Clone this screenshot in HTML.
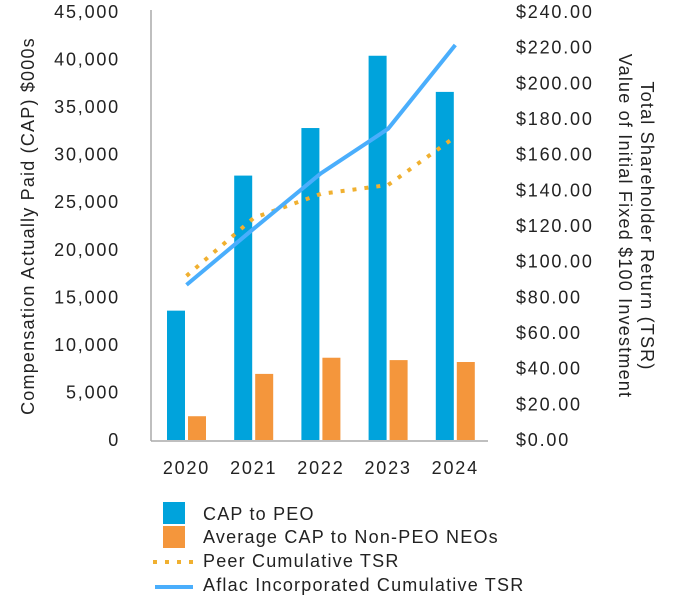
<!DOCTYPE html>
<html><head><meta charset="utf-8">
<style>
body{margin:0;background:#fff;}
svg{display:block;font-family:"Liberation Sans",sans-serif;}
text{letter-spacing:1.2px;}
.num{letter-spacing:1.8px;}
</style></head>
<body>
<svg id="chart" width="680" height="600" viewBox="0 0 680 600">
<g id="axes"></g>
<g id="bars"></g>
<g id="lines"></g>
<text transform="translate(34,226) rotate(-90)" text-anchor="middle" font-size="18" fill="#222">Compensation Actually Paid (CAP) $000s</text>
<text transform="translate(641,226) rotate(90)" text-anchor="middle" font-size="18" fill="#222">Total Shareholder Return (TSR)</text>
<text transform="translate(619,226) rotate(90)" text-anchor="middle" font-size="18" fill="#222">Value of Initial Fixed $100 Investment</text>
<g font-size="18" fill="#222">
<rect x="163" y="502" width="22" height="22" fill="#00a3dc"/>
<text x="203" y="520">CAP to PEO</text>
<rect x="163" y="526" width="22" height="22" fill="#f4963c"/>
<text x="203" y="543">Average CAP to Non-PEO NEOs</text>
<line x1="153" y1="562" x2="193" y2="562" stroke="#f0b030" stroke-width="4" stroke-dasharray="4 8"/>
<text x="203" y="567">Peer Cumulative TSR</text>
<line x1="155" y1="587" x2="193" y2="587" stroke="#4aaefc" stroke-width="4"/>
<text x="203" y="591">Aflac Incorporated Cumulative TSR</text>
</g>
</svg>
<script>
const categories = ["2020","2021","2022","2023","2024"];
const capPeo = [13600, 27800, 32800, 40400, 36600];
const capNeo = [2500, 6950, 8650, 8400, 8200];
const aflacTsr = [87, 118.5, 149.5, 174.5, 221.5];
const peerTsr = [92, 124.5, 138, 143, 170];
const leftTicks = [0,5000,10000,15000,20000,25000,30000,35000,40000,45000];
const rightTicks = [0,20,40,60,80,100,120,140,160,180,200,220,240];

const NS="http://www.w3.org/2000/svg";
const y0=440, y1=12;
const yL=v=>y0-(v/45000)*(y0-y1);
const yR=v=>y0-(v/240)*(y0-y1);
const xC=i=>186.5+67.2*i;
function mk(tag,attrs,parent){const e=document.createElementNS(NS,tag);for(const k in attrs)e.setAttribute(k,attrs[k]);parent.appendChild(e);return e;}
const axes=document.getElementById('axes'),bars=document.getElementById('bars'),lines=document.getElementById('lines');

let a=mk('line',{x1:151,y1:10,x2:151,y2:441,stroke:'#aaa','stroke-width':1.5},axes);


let b=mk('line',{x1:151,y1:441,x2:488,y2:441,stroke:'#aaa','stroke-width':1.5},axes);



leftTicks.forEach(v=>{
  const t=mk('text',{x:120,y:yL(v)+6,'text-anchor':'end','font-size':18,fill:'#222',class:'num'},axes);
  t.textContent=v.toLocaleString('en-US');
  
  
});
rightTicks.forEach(v=>{
  const t=mk('text',{x:516,y:yR(v)+6,'font-size':18,fill:'#222',class:'num'},axes);
  t.textContent='$'+v.toFixed(2);
  
  
});
categories.forEach((c,i)=>{
  const t=mk('text',{x:xC(i),y:474,'text-anchor':'middle','font-size':18,fill:'#222',class:'num'},axes);
  t.textContent=c;
  
  
  const r1=mk('rect',{x:xC(i)-19.5,y:yL(capPeo[i]),width:18,height:y0-yL(capPeo[i]),fill:'#00a3dc'},bars);
  
  
  const r2=mk('rect',{x:xC(i)+1.5,y:yL(capNeo[i]),width:18,height:y0-yL(capNeo[i]),fill:'#f4963c'},bars);
  
  
});
const peer=mk('polyline',{points:peerTsr.map((v,i)=>xC(i)+','+yR(v)).join(' '),fill:'none',stroke:'#f0b030','stroke-width':4,'stroke-dasharray':'4 8'},lines);


const afl=mk('polyline',{points:aflacTsr.map((v,i)=>xC(i)+','+yR(v)).join(' '),fill:'none',stroke:'#4aaefc','stroke-width':4},lines);


</script>
</body></html>
